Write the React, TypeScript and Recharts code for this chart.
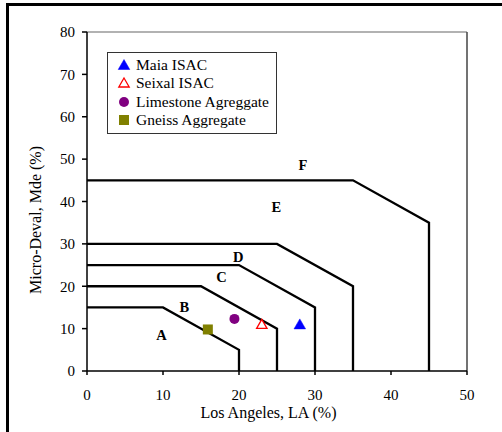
import React from 'react';
import { ComposedChart, Line, Scatter, XAxis, YAxis, ReferenceLine, Legend, Label } from 'recharts';

const xTicks = [0, 10, 20, 30, 40, 50];
const yTicks = [0, 10, 20, 30, 40, 50, 60, 70, 80];

// Zone boundary polylines (LA %, MDE %)
const boundaryA = [{ x: 0, y: 15 }, { x: 10, y: 15 }, { x: 20, y: 5 }, { x: 20, y: 0 }];
const boundaryB = [{ x: 0, y: 20 }, { x: 15, y: 20 }, { x: 25, y: 10 }, { x: 25, y: 0 }];
const boundaryC = [{ x: 0, y: 25 }, { x: 20, y: 25 }, { x: 30, y: 15 }, { x: 30, y: 0 }];
const boundaryD = [{ x: 0, y: 30 }, { x: 25, y: 30 }, { x: 35, y: 20 }, { x: 35, y: 0 }];
const boundaryE = [{ x: 0, y: 45 }, { x: 35, y: 45 }, { x: 45, y: 35 }, { x: 45, y: 0 }];

// Measured materials
const maiaISAC = [{ x: 28, y: 11 }];
const seixalISAC = [{ x: 23, y: 11 }];
const limestone = [{ x: 19.4, y: 12.3 }];
const gneiss = [{ x: 15.9, y: 9.8 }];

// Zone class labels
const zoneLabels = [
  { x: 9.8, y: 8.6, t: 'A' },
  { x: 12.8, y: 15.1, t: 'B' },
  { x: 17.7, y: 22.1, t: 'C' },
  { x: 19.9, y: 26.9, t: 'D' },
  { x: 24.9, y: 38.8, t: 'E' },
  { x: 28.4, y: 48.6, t: 'F' },
];

const seriesNames = ['Maia ISAC', 'Seixal ISAC', 'Limestone Agreggate', 'Gneiss Aggregate'];

const FONT = '"Liberation Serif", "Times New Roman", serif';

const BLUE = '#0000FF';
const RED = '#FF0000';
const PURPLE = '#800080';
const OLIVE = '#808000';

const triFilled = (cx: number, cy: number, color: string) => (
  <path d={`M${cx},${cy - 5.5} L${cx + 5.8},${cy + 4.5} L${cx - 5.8},${cy + 4.5} Z`} fill={color} stroke={color} strokeWidth={0.5} />
);
const triHollow = (cx: number, cy: number, color: string) => (
  <path d={`M${cx},${cy - 5} L${cx + 5.2},${cy + 4} L${cx - 5.2},${cy + 4} Z`} fill="#fff" stroke={color} strokeWidth={1.3} />
);
const circle = (cx: number, cy: number, color: string) => <circle cx={cx} cy={cy} r={5} fill={color} />;
const square = (cx: number, cy: number, color: string) => (
  <rect x={cx - 5} y={cy - 5} width={10} height={10} fill={color} />
);

const markers = [
  (cx: number, cy: number) => triFilled(cx, cy, BLUE),
  (cx: number, cy: number) => triHollow(cx, cy, RED),
  (cx: number, cy: number) => circle(cx, cy, PURPLE),
  (cx: number, cy: number) => square(cx, cy, OLIVE),
];

const LegendBox = () => (
  <div
    style={{
      border: '1px solid #333',
      background: '#fff',
      width: 168,
      height: 77,
      boxSizing: 'content-box',
      paddingTop: 3,
      fontFamily: FONT,
      fontSize: 15.5,
      color: '#000',
    }}
  >
    {seriesNames.map((n, i) => (
      <div key={n} style={{ display: 'flex', alignItems: 'center', height: 18.3, whiteSpace: 'nowrap' }}>
        <svg width={24} height={18} style={{ marginLeft: 4, flex: 'none' }}>
          {markers[i](12, 9)}
        </svg>
        <span style={{ marginLeft: 0 }}>{n}</span>
      </div>
    ))}
  </div>
);

const YTitle = (props: any) => {
  const vb = props.viewBox || { x: 0, y: 32, width: 87, height: 339 };
  const x = vb.x + 41;
  const y = vb.y + vb.height / 2 + 18.5;
  return (
    <text x={x} y={y} transform={`rotate(-90, ${x}, ${y})`} textAnchor="middle" fontFamily={FONT} fontSize={16} fill="#000">
      Micro-Deval, Mde (%)
    </text>
  );
};

const XTitle = (props: any) => {
  const vb = props.viewBox || { x: 87, y: 371, width: 380, height: 61 };
  const x = vb.x + vb.width / 2 - 8.5;
  const y = vb.y + 46.5;
  return (
    <text x={x} y={y} textAnchor="middle" fontFamily={FONT} fontSize={16} fill="#000">
      Los Angeles, LA (%)
    </text>
  );
};

const boundaries = [boundaryA, boundaryB, boundaryC, boundaryD, boundaryE];

export default function App() {
  return (
    <div style={{ position: 'absolute', left: 0, top: 0, width: 502, height: 432, overflow: 'hidden', background: '#fff' }}>
      <div
        style={{
          position: 'absolute',
          left: 6,
          top: 3,
          width: 520,
          height: 460,
          borderTop: '3px solid #000',
          borderLeft: '3px solid #000',
        }}
      />
      <div style={{ position: 'absolute', left: 0, top: 0 }}>
        <ComposedChart width={502} height={432} margin={{ top: 32, right: 35, left: 0, bottom: 0 }}>
          <XAxis
            type="number"
            dataKey="x"
            domain={[0, 50]}
            ticks={xTicks}
            interval={0}
            allowDataOverflow
            height={61}
            tickSize={4}
            tickMargin={14}
            stroke="#000"
            strokeWidth={1.5}
            tick={{ fill: '#000', fontFamily: FONT, fontSize: 15 }}
          >
            <Label content={XTitle} />
          </XAxis>
          <YAxis
            type="number"
            dataKey="y"
            domain={[0, 80]}
            ticks={yTicks}
            interval={0}
            allowDataOverflow
            width={87}
            tickSize={5}
            tickMargin={7}
            stroke="#000"
            strokeWidth={1.5}
            tick={{ fill: '#000', fontFamily: FONT, fontSize: 15 }}
          >
            <Label content={YTitle} />
          </YAxis>
          <ReferenceLine y={80} stroke="#999" strokeWidth={1.5} />
          <ReferenceLine x={50} stroke="#444" strokeWidth={1.5} />
          {boundaries.map((b, i) => (
            <Line
              key={i}
              data={b}
              dataKey="y"
              type="linear"
              stroke="#000"
              strokeWidth={2.3}
              dot={false}
              activeDot={false}
              legendType="none"
              isAnimationActive={false}
            />
          ))}
          <Scatter
            data={zoneLabels}
            legendType="none"
            isAnimationActive={false}
            shape={(p: any) => (
              <text
                x={p.cx}
                y={p.cy}
                textAnchor="middle"
                dominantBaseline="central"
                fontFamily={FONT}
                fontWeight="bold"
                fontSize={14.5}
                fill="#000"
              >
                {p.payload.t}
              </text>
            )}
          />
          <Scatter name={seriesNames[0]} data={maiaISAC} isAnimationActive={false} shape={(p: any) => markers[0](p.cx, p.cy)} />
          <Scatter name={seriesNames[1]} data={seixalISAC} isAnimationActive={false} shape={(p: any) => markers[1](p.cx, p.cy)} />
          <Scatter name={seriesNames[2]} data={limestone} isAnimationActive={false} shape={(p: any) => markers[2](p.cx, p.cy)} />
          <Scatter name={seriesNames[3]} data={gneiss} isAnimationActive={false} shape={(p: any) => markers[3](p.cx, p.cy)} />
          <Legend
            layout="horizontal"
            verticalAlign="middle"
            align="center"
            wrapperStyle={{ left: 107, top: 52, width: 'auto' }}
            content={() => <LegendBox />}
          />
        </ComposedChart>
      </div>
    </div>
  );
}
